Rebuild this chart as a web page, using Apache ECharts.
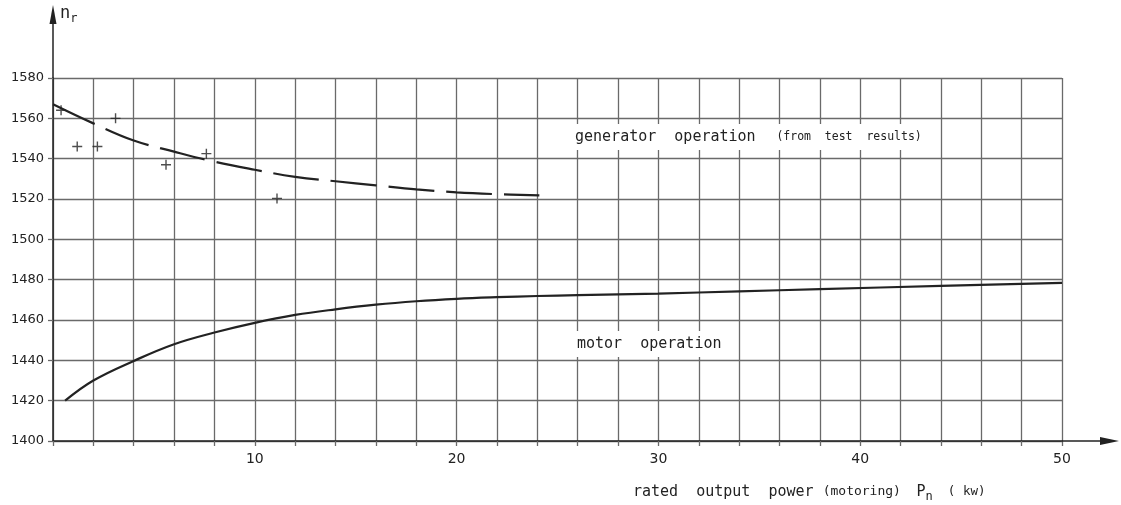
<!DOCTYPE html>
<html>
<head>
<meta charset="utf-8">
<script src="https://cdn.jsdelivr.net/npm/echarts@6/dist/echarts.min.js"></script>
<style>html,body{margin:0;padding:0;background:#fff}#c{width:1121px;height:505px}</style>
</head>
<body>
<div id="c"></div>
<script>
// generator operation (dashed curve)
const genX = [0, 2, 4, 6, 8, 10, 12, 14, 16, 18, 20, 22, 24.1];
const genY = [1567, 1557.5, 1549, 1543.5, 1538.5, 1534.5, 1531, 1528.8, 1526.8, 1524.8, 1523.3, 1522.4, 1521.8];
// test results (+ markers)
const testX = [0.4, 1.2, 2.2, 3.1, 5.6, 7.6, 11.1];
const testY = [1564, 1546, 1546, 1560, 1537, 1542.5, 1520.3];
// motor operation (solid curve)
const motorX = [0.6, 2, 4, 6, 8, 10, 12, 14, 16, 18, 20, 22, 24, 26, 30, 34, 38, 44, 50];
const motorY = [1420, 1430, 1439.7, 1448, 1453.8, 1458.6, 1462.5, 1465.3, 1467.6, 1469.3, 1470.5, 1471.3, 1471.9, 1472.3, 1473.1, 1474.2, 1475.3, 1476.9, 1478.4];
const yTicks = [1400, 1420, 1440, 1460, 1480, 1500, 1520, 1540, 1560, 1580];
const xLabels = [10, 20, 30, 40, 50];

const ink = '#222';
const gridCol = '#6a6a6a';
const font = 'DejaVu Sans';
const mono = 'DejaVu Sans Mono';

const chart = echarts.init(document.getElementById('c'));
const zip = (a, b) => a.map((v, i) => [v, b[i]]);

chart.setOption({
  backgroundColor: '#fff',
  animation: false,
  grid: { left: 53, right: 59, top: 78, bottom: 64, containLabel: false },
  xAxis: {
    type: 'value', min: 0, max: 50, interval: 2,
    axisLine: { show: true, lineStyle: { color: ink, width: 1.5 } },
    axisTick: { show: true, length: 5, lineStyle: { color: gridCol, width: 1.3 } },
    axisLabel: {
      color: ink, fontFamily: font, fontSize: 14, margin: 11,
      formatter: v => xLabels.indexOf(v) >= 0 ? String(v) : ''
    },
    splitLine: { show: true, lineStyle: { color: gridCol, width: 1.3 } }
  },
  yAxis: {
    type: 'value', min: 1400, max: 1580, interval: 20,
    axisLine: { show: true, lineStyle: { color: ink, width: 1.5 } },
    axisTick: { show: true, length: 5, lineStyle: { color: gridCol, width: 1.3 } },
    axisLabel: {
      color: ink, fontFamily: font, fontSize: 13, margin: 9,
      formatter: v => yTicks.indexOf(v) >= 0 ? String(v) : ''
    },
    splitLine: { show: true, lineStyle: { color: gridCol, width: 1.3 } }
  },
  series: [
    {
      name: 'generator', type: 'line', data: zip(genX, genY), smooth: 0.4,
      showSymbol: false, lineStyle: { color: ink, width: 2.2, type: [46, 12] }, z: 3
    },
    {
      name: 'test', type: 'scatter', data: zip(testX, testY),
      symbol: 'path://M4.3,0h1.4v4.3h4.3v1.4h-4.3v4.3h-1.4v-4.3h-4.3v-1.4h4.3z',
      symbolSize: 10, itemStyle: { color: ink }, z: 4
    },
    {
      name: 'motor', type: 'line', data: zip(motorX, motorY), smooth: 0.4,
      showSymbol: false, lineStyle: { color: ink, width: 2.2 }, z: 3
    }
  ]
});

const pTop = chart.convertToPixel({ gridIndex: 0 }, [0, 1580]);
const pRight = chart.convertToPixel({ gridIndex: 0 }, [50, 1400]);
const ax = pTop[0], ay = pRight[1];

chart.setOption({
  graphic: [
    // axis extensions with arrows
    { type: 'line', shape: { x1: ax, y1: pTop[1], x2: ax, y2: 16 }, style: { stroke: ink, lineWidth: 1.5 }, z: 10 },
    { type: 'polygon', shape: { points: [[ax - 3.5, 24], [ax, 5], [ax + 3.5, 24]] }, style: { fill: ink }, z: 10 },
    { type: 'line', shape: { x1: pRight[0], y1: ay, x2: 1106, y2: ay }, style: { stroke: ink, lineWidth: 1.5 }, z: 10 },
    { type: 'polygon', shape: { points: [[1100, ay - 4], [1119, ay], [1100, ay + 4]] }, style: { fill: ink }, z: 10 },
    // y axis name
    {
      type: 'text', left: ax + 7, top: 5, z: 10,
      style: {
        text: '{n|n}{r|r}', fill: ink,
        rich: {
          n: { fontFamily: mono, fontSize: 17, fill: ink, verticalAlign: 'top', lineHeight: 20 },
          r: { fontFamily: mono, fontSize: 12, fill: ink, verticalAlign: 'bottom', lineHeight: 20, padding: [7, 0, 0, 0] }
        }
      }
    },
    // generator annotation
    {
      type: 'text', left: 569, top: 124, z: 10,
      style: {
        text: '{a|generator  operation}{b|   (from  test  results)}',
        backgroundColor: '#fff', padding: [3, 6, 3, 6], fill: ink,
        rich: {
          a: { fontFamily: mono, fontSize: 15, fill: ink, lineHeight: 20 },
          b: { fontFamily: mono, fontSize: 11.5, fill: ink, lineHeight: 20 }
        }
      }
    },
    // motor annotation
    {
      type: 'text', left: 571, top: 331, z: 10,
      style: {
        text: 'motor  operation', fontFamily: mono, fontSize: 15, fill: ink,
        backgroundColor: '#fff', padding: [3, 6, 3, 6], lineHeight: 20
      }
    },
    // x axis name
    {
      type: 'text', left: 633, top: 482, z: 10,
      style: {
        text: '{a|rated  output  power }{c|(motoring)  }{a|P}{s|n}{d|  ( kw)}', fill: ink,
        rich: {
          a: { fontFamily: mono, fontSize: 15, fill: ink, lineHeight: 22, verticalAlign: 'middle' },
          c: { fontFamily: mono, fontSize: 13, fill: ink, lineHeight: 22, verticalAlign: 'middle' },
          d: { fontFamily: mono, fontSize: 12.5, fill: ink, lineHeight: 22, verticalAlign: 'middle' },
          s: { fontFamily: mono, fontSize: 12, fill: ink, lineHeight: 22, verticalAlign: 'bottom', padding: [9, 0, 0, 0] }
        }
      }
    }
  ]
});
</script>
</body>
</html>
